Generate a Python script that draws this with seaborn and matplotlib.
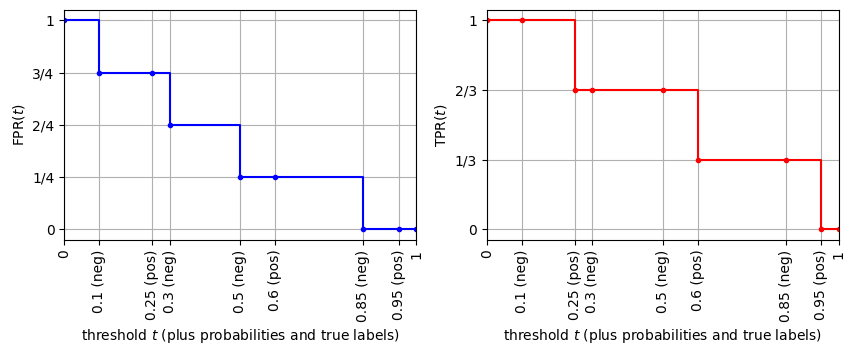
import matplotlib
matplotlib.use("Agg")
import matplotlib.pyplot as plt
import seaborn as sns

# thresholds and tick labels
thresholds = [0, 0.1, 0.25, 0.3, 0.5, 0.6, 0.85, 0.95, 1]
tick_labels = ["0", "0.1 (neg)", "0.25 (pos)", "0.3 (neg)", "0.5 (neg)",
               "0.6 (pos)", "0.85 (neg)", "0.95 (pos)", "1"]

# rates at each threshold
fpr = [1, 0.75, 0.75, 0.5, 0.25, 0.25, 0, 0, 0]
tpr = [1, 1, 2/3, 2/3, 2/3, 1/3, 1/3, 0, 0]

fpr_ticks = [0, 0.25, 0.5, 0.75, 1]
fpr_ticklabels = ["0", "1/4", "2/4", "3/4", "1"]
tpr_ticks = [0, 1/3, 2/3, 1]
tpr_ticklabels = ["0", "1/3", "2/3", "1"]

fig, axes = plt.subplots(1, 2, figsize=(8.55, 3.56), dpi=100)
fig.subplots_adjust(left=0.075, right=0.981, top=0.972, bottom=0.326, wspace=0.2)

panels = [
    (axes[0], fpr, "blue", r"FPR$(t)$", fpr_ticks, fpr_ticklabels),
    (axes[1], tpr, "red", r"TPR$(t)$", tpr_ticks, tpr_ticklabels),
]

for ax, vals, col, ylab, yt, ytl in panels:
    sns.lineplot(x=thresholds, y=vals, ax=ax, color=col, drawstyle="steps-post",
                 marker=".", markersize=6, markeredgecolor=col, markeredgewidth=1,
                 linewidth=1.5)
    ax.set_xlim(0, 1)
    ax.set_ylim(-0.05, 1.05)
    ax.set_xticks(thresholds)
    ax.set_xticklabels(tick_labels, rotation=90)
    ax.set_yticks(yt)
    ax.set_yticklabels(ytl)
    ax.set_xlabel(r"threshold $t$ (plus probabilities and true labels)")
    ax.set_ylabel(ylab)
    ax.grid(True)

fig.savefig("out.png", dpi=100)
